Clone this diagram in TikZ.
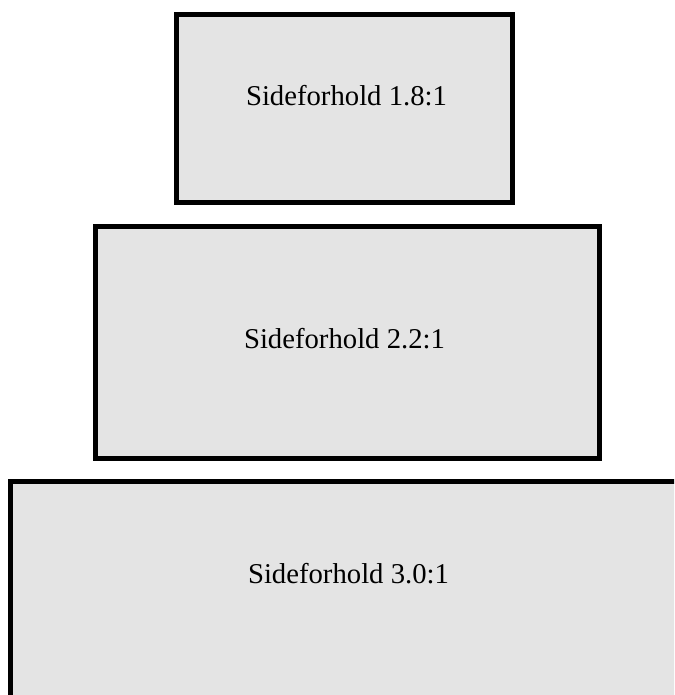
\documentclass[tikz,border=0pt]{standalone}
\usepackage{fontspec}
\setmainfont{Liberation Serif}
\usepackage{xcolor}
\usetikzlibrary{positioning}
\definecolor{boxgray}{RGB}{228,228,228}
\tikzstyle{frame} = [rectangle, draw=black, fill=boxgray, line width=5pt]
\tikzstyle{ratio} = [font=\fontsize{28.7}{34}\selectfont, text centered]

\begin{document}
\begin{tikzpicture}[x=1pt,y=1pt]
		\clip (0,0) rectangle (674,695);
		%rammer
		\node (box1) [frame, minimum width=336pt, minimum height=188pt] at (344.5,586.5) {};
		\node (box2) [frame, minimum width=504pt, minimum height=232pt, below=19pt of box1, xshift=3pt] {};
		\node (box3) [frame, minimum width=720pt, minimum height=260pt, below=18pt of box2.south west, anchor=north west, xshift=-85pt] {};
		%tekster
		\node (txt1) [ratio] at ([xshift=2pt,yshift=12.5pt]box1.center) {Sideforhold 1.8:1};
		\node (txt2) [ratio] at ([xshift=-3pt,yshift=3.5pt]box2.center) {Sideforhold 2.2:1};
		\node (txt3) [ratio] at ([xshift=4pt,yshift=-235pt]txt2.center) {Sideforhold 3.0:1};
	\end{tikzpicture}
\end{document}
